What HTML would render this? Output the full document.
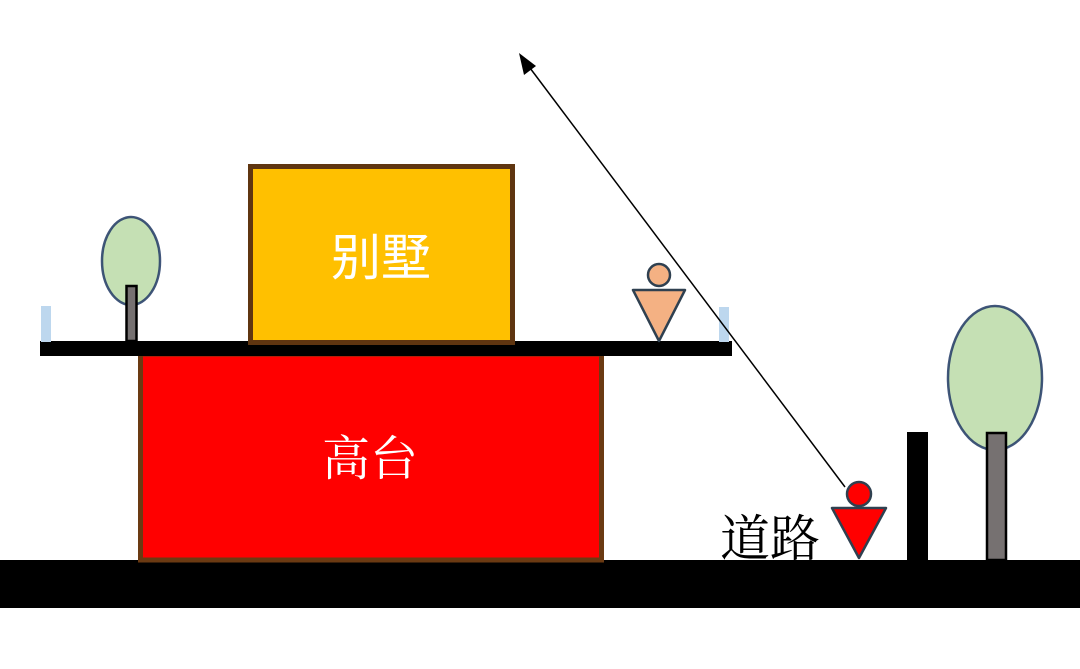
<!DOCTYPE html>
<html><head><meta charset="utf-8"><style>html,body{margin:0;padding:0;background:#fff}svg{display:block}</style></head>
<body>
<svg width="1080" height="669" viewBox="0 0 1080 669" xmlns="http://www.w3.org/2000/svg">
<rect x="0" y="0" width="1080" height="669" fill="#fff"/>
<rect x="0" y="560" width="1080" height="48" fill="#000"/>
<rect x="140.5" y="354" width="461" height="206" fill="#ff0000" stroke="#6b3a12" stroke-width="5"/>
<text x="370" y="475" font-family="'Liberation Serif', 'Noto Serif CJK SC', serif" font-size="48" fill="#fff" text-anchor="middle">高台</text>
<rect x="40" y="341" width="692" height="15" fill="#000"/>
<rect x="250.5" y="166.5" width="262" height="176" fill="#ffc000" stroke="#5f3510" stroke-width="5"/>
<text x="381" y="275" font-family="'Liberation Sans', 'Noto Sans CJK SC', sans-serif" font-size="50" fill="#fff" text-anchor="middle">别墅</text>
<rect x="41" y="306" width="10" height="36" fill="#bdd7ee"/>
<rect x="719" y="307" width="10" height="35" fill="#bdd7ee"/>
<ellipse cx="131" cy="261" rx="29" ry="44" fill="#c5e0b4" stroke="#203864" stroke-width="2.5" stroke-opacity="0.85"/>
<rect x="126.5" y="286" width="10" height="55" fill="#767171" stroke="#000" stroke-width="2.5"/>
<line x1="845" y1="487" x2="527" y2="64" stroke="#000" stroke-width="1.5"/>
<polygon points="519,53 536,66 524,75" fill="#000"/>
<circle cx="659" cy="275" r="11" fill="#f4b183" stroke="#2f4050" stroke-width="2.5"/>
<polygon points="633,290 685,290 659,341" fill="#f4b183" stroke="#2f4050" stroke-width="2.5" stroke-linejoin="round"/>
<circle cx="859" cy="494" r="12" fill="#ff0000" stroke="#2f4050" stroke-width="2.5"/>
<polygon points="832,508 886,508 859,558" fill="#ff0000" stroke="#2f4050" stroke-width="2.5" stroke-linejoin="round"/>
<text x="770" y="556" font-family="'Liberation Serif', 'Noto Serif CJK SC', serif" font-size="50" fill="#000" text-anchor="middle">道路</text>
<rect x="907" y="432" width="21" height="129" fill="#000"/>
<ellipse cx="995" cy="378" rx="47" ry="72" fill="#c5e0b4" stroke="#203864" stroke-width="2.5" stroke-opacity="0.85"/>
<rect x="987" y="433" width="19" height="127" fill="#767171" stroke="#000" stroke-width="2.5"/>
</svg>
</body></html>
